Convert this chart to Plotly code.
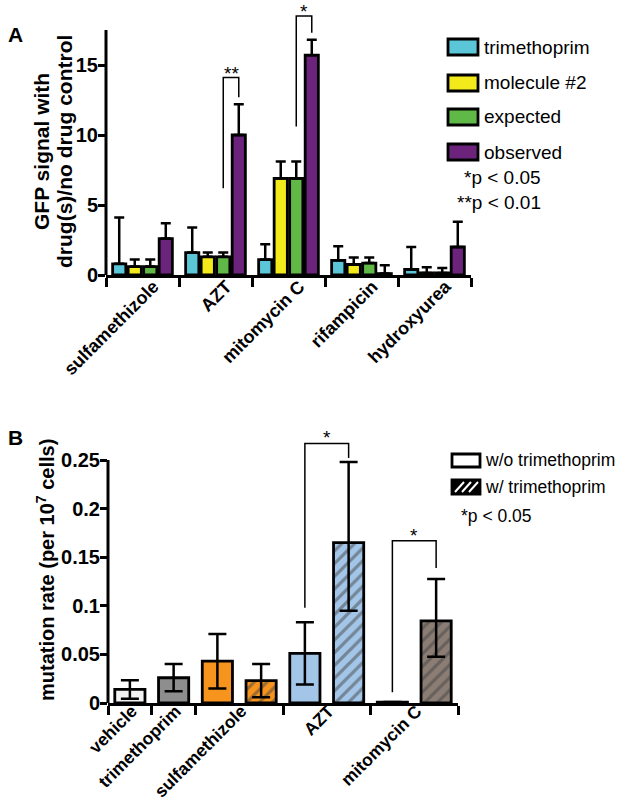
import plotly.graph_objects as go

W, H = 625, 811
FONT = "Liberation Sans, Arial, sans-serif"


def px(x):
    return x / W


def py(y):
    return 1 - y / H


# ---------------- Panel A data ----------------
A_categories = ["sulfamethizole", "AZT", "mitomycin C", "rifampicin", "hydroxyurea"]
A_series = ["trimethoprim", "molecule #2", "expected", "observed"]
A_trimethoprim = [0.8, 1.6, 1.1, 1.05, 0.4]
A_trimethoprim_err = [3.3, 1.8, 1.1, 1.0, 1.6]
A_molecule2 = [0.6, 1.3, 6.9, 0.75, 0.15]
A_molecule2_err = [0.5, 0.3, 1.2, 0.5, 0.4]
A_expected = [0.6, 1.3, 6.9, 0.85, 0.15]
A_expected_err = [0.5, 0.3, 1.2, 0.4, 0.35]
A_observed = [2.6, 10.0, 15.7, 0.1, 2.0]
A_observed_err = [1.1, 2.2, 1.1, 0.6, 1.8]
A_colors = ["#5cc6d9", "#f3ea1b", "#60b947", "#6b237c"]
A_yticks = [0, 5, 10, 15]
A_axis_top = 17.5

# significance brackets (expected vs observed)
A_sig_category = ["AZT", "mitomycin C"]
A_sig_left_bottom = [6.2, 10.6]
A_sig_right_bottom = [12.7, 17.3]
A_sig_top = [14.1, 18.5]
A_sig_label = ["**", "*"]

# ---------------- Panel B data ----------------
B_groups = ["vehicle", "trimethoprim", "sulfamethizole", "AZT", "mitomycin C"]
B_group_slots = [1, 1, 2, 2, 2]
B_without = [0.014, 0.026, 0.043, 0.051, 0.001]
B_without_err = [0.0095, 0.014, 0.028, 0.032, 0.0]
B_without_colors = ["#f2f2f2", "#8e8e8e", "#f7941d", "#a3c6e8", "#1e1e1e"]
B_with_groups = ["sulfamethizole", "AZT", "mitomycin C"]
B_with = [0.023, 0.165, 0.0845]
B_with_err_plus = [0.017, 0.083, 0.043]
B_with_err_minus = [0.017, 0.07, 0.037]
B_with_colors = ["#f7941d", "#a3c6e8", "#8b7d74"]
B_yticks = [0, 0.05, 0.1, 0.15, 0.2, 0.25]
B_yticktext = ["0", "0.05", "0.1", "0.15", "0.2", "0.25"]
B_axis_top = 0.25

B_sig_group = ["AZT", "mitomycin C"]
B_sig_left_bottom = [0.098, 0.011]
B_sig_right_bottom = [0.252, 0.139]
B_sig_top = [0.267, 0.167]
B_sig_label = ["*", "*"]

# ---------------- geometry helpers ----------------
BARGAP, BARGROUPGAP = 0.15, 0.15
nA = len(A_categories)
slot = (1 - BARGAP) / len(A_series)
A_offsets = [(-(len(A_series) - 1) / 2 + i) * slot for i in range(len(A_series))]
A_x = list(range(nA))
A_label_pos = [i + 0.15 for i in A_x]
A_bounds = [i - 0.5 for i in range(nA + 1)]

B_bounds = [0]
for s in B_group_slots:
    B_bounds.append(B_bounds[-1] + s)
B_start = dict(zip(B_groups, B_bounds[:-1]))
B_centers = [B_bounds[i] + B_group_slots[i] / 2 + 0.05 for i in range(len(B_groups))]
B_without_x = [B_start[g] + 0.5 for g in B_groups]
B_with_x = [B_start[g] + 1.5 for g in B_with_groups]
B_bar_w = 0.69

fig = go.Figure()

A_vals = [A_trimethoprim, A_molecule2, A_expected, A_observed]
A_errs = [A_trimethoprim_err, A_molecule2_err, A_expected_err, A_observed_err]
for name, vals, errs, col in zip(A_series, A_vals, A_errs, A_colors):
    fig.add_trace(go.Bar(
        x=A_x, y=vals, name=name, xaxis="x", yaxis="y",
        customdata=A_categories,
        hovertemplate="%{customdata}: %{y}<extra>" + name + "</extra>",
        marker=dict(color=col, line=dict(color="black", width=2.8)),
        error_y=dict(type="data", symmetric=False, array=errs,
                     arrayminus=[0] * len(errs), color="black",
                     thickness=2.5, width=5),
        showlegend=False,
    ))

fig.add_trace(go.Bar(
    x=B_without_x, y=B_without, name="w/o trimethoprim", xaxis="x2", yaxis="y2",
    width=B_bar_w, offset=-B_bar_w / 2,
    marker=dict(color=B_without_colors, line=dict(color="black", width=2.8)),
    error_y=dict(type="data", array=B_without_err, color="black",
                 thickness=2.5, width=9),
    showlegend=False,
))
fig.add_trace(go.Bar(
    x=B_with_x, y=B_with, name="w/ trimethoprim", xaxis="x2", yaxis="y2",
    width=B_bar_w, offset=-B_bar_w / 2,
    marker=dict(color=B_with_colors, line=dict(color="black", width=2.8),
                pattern=dict(shape="/", fgcolor="#1a1a1a", bgcolor=B_with_colors,
                             size=9, solidity=0.36)),
    error_y=dict(type="data", symmetric=False, array=B_with_err_plus,
                 arrayminus=B_with_err_minus, color="black",
                 thickness=2.5, width=9),
    showlegend=False,
))

shapes = []
annotations = []

# manual y-axis lines (axis stops at last tick, brackets extend above)
A_left, A_right = px(106), px(471)
B_left, B_right = px(108), px(458)
shapes.append(dict(type="line", xref="paper", yref="y", x0=A_left, x1=A_left,
                   y0=0, y1=A_axis_top, line=dict(color="black", width=3)))
shapes.append(dict(type="line", xref="paper", yref="y2", x0=B_left, x1=B_left,
                   y0=0, y1=B_axis_top, line=dict(color="black", width=3)))

# brackets A
for cat, lb, rb, top, lab in zip(A_sig_category, A_sig_left_bottom,
                                 A_sig_right_bottom, A_sig_top, A_sig_label):
    ci = A_categories.index(cat)
    xl = ci + A_offsets[2]
    xr = ci + A_offsets[3]
    shapes.append(dict(type="path", xref="x", yref="y",
                       path=f"M {xl},{lb} L {xl},{top} L {xr},{top} L {xr},{rb}",
                       line=dict(color="black", width=1.5)))
    annotations.append(dict(x=(xl + xr) / 2, y=top, xref="x", yref="y",
                            text=lab, showarrow=False, yanchor="bottom", yshift=-8,
                            font=dict(family=FONT, size=19, color="black")))

# brackets B
for g, lb, rb, top, lab in zip(B_sig_group, B_sig_left_bottom,
                               B_sig_right_bottom, B_sig_top, B_sig_label):
    xl = B_start[g] + 0.5
    xr = B_start[g] + 1.5
    shapes.append(dict(type="path", xref="x2", yref="y2",
                       path=f"M {xl},{lb} L {xl},{top} L {xr},{top} L {xr},{rb}",
                       line=dict(color="black", width=1.5)))
    annotations.append(dict(x=(xl + xr) / 2, y=top, xref="x2", yref="y2",
                            text=lab, showarrow=False, yanchor="bottom", yshift=-7,
                            font=dict(family=FONT, size=19, color="black")))

# legend A (manual, large swatches)
A_leg_rows = [47, 83, 117, 152]
for name, col, yc in zip(A_series, A_colors, A_leg_rows):
    shapes.append(dict(type="rect", xref="paper", yref="paper",
                       x0=px(448), x1=px(478), y0=py(yc + 8), y1=py(yc - 8),
                       fillcolor=col, line=dict(color="black", width=2.8)))
    annotations.append(dict(x=px(482), y=py(yc), xref="paper", yref="paper",
                            text=name, showarrow=False, xanchor="left", yanchor="middle",
                            font=dict(family=FONT, size=19, color="black")))
annotations.append(dict(x=px(462), y=py(178), xref="paper", yref="paper",
                        text="*p < 0.05", showarrow=False, xanchor="left", yanchor="middle",
                        font=dict(family=FONT, size=19, color="black")))
annotations.append(dict(x=px(455), y=py(203), xref="paper", yref="paper",
                        text="**p < 0.01", showarrow=False, xanchor="left", yanchor="middle",
                        font=dict(family=FONT, size=19, color="black")))

# legend B
shapes.append(dict(type="rect", xref="paper", yref="paper",
                   x0=px(452), x1=px(480), y0=py(467), y1=py(454),
                   fillcolor="white", line=dict(color="black", width=2.8)))
annotations.append(dict(x=px(483), y=py(460), xref="paper", yref="paper",
                        text="w/o trimethoprim", showarrow=False, xanchor="left",
                        yanchor="middle", font=dict(family=FONT, size=17.5, color="black")))
shapes.append(dict(type="rect", xref="paper", yref="paper",
                   x0=px(452), x1=px(480), y0=py(494), y1=py(480),
                   fillcolor="black", line=dict(color="black", width=2.8)))
for x0 in [455, 462, 469]:
    shapes.append(dict(type="line", xref="paper", yref="paper",
                       x0=px(x0), x1=px(x0 + 9), y0=py(492), y1=py(482),
                       line=dict(color="white", width=2)))
annotations.append(dict(x=px(483), y=py(487), xref="paper", yref="paper",
                        text="w/ trimethoprim", showarrow=False, xanchor="left",
                        yanchor="middle", font=dict(family=FONT, size=17.5, color="black")))
annotations.append(dict(x=px(459), y=py(516), xref="paper", yref="paper",
                        text="*p < 0.05", showarrow=False, xanchor="left", yanchor="middle",
                        font=dict(family=FONT, size=17.5, color="black")))

# panel labels and axis titles
annotations.append(dict(x=px(6), y=py(35), xref="paper", yref="paper", text="<b>A</b>",
                        showarrow=False, xanchor="left", yanchor="middle",
                        font=dict(family=FONT, size=21, color="black")))
annotations.append(dict(x=px(6), y=py(437), xref="paper", yref="paper", text="<b>B</b>",
                        showarrow=False, xanchor="left", yanchor="middle",
                        font=dict(family=FONT, size=21, color="black")))
A_title_lines = ["GFP signal with", "drug(s)/no drug control"]
for xc, line in zip([41, 64], A_title_lines):
    annotations.append(dict(x=px(xc), y=py(152), xref="paper", yref="paper",
                            text="<b>" + line + "</b>",
                            textangle=-90, showarrow=False, xanchor="center",
                            yanchor="middle",
                            font=dict(family=FONT, size=21, color="black")))
annotations.append(dict(x=px(45), y=py(570), xref="paper", yref="paper",
                        text="<b>mutation rate (per 10<sup>7</sup> cells)</b>",
                        textangle=-90, showarrow=False, xanchor="center", yanchor="middle",
                        font=dict(family=FONT, size=20, color="black")))

tickfont_xA = dict(family=FONT, size=18, color="black", weight="bold")
tickfont_xB = dict(family=FONT, size=17.5, color="black", weight="bold")
tickfont_y = dict(family=FONT, size=20, color="black", weight="bold")

common = dict(showgrid=False, zeroline=False, automargin=False)

fig.update_layout(
    width=W, height=H, autosize=False,
    margin=dict(l=0, r=0, t=0, b=0, autoexpand=False),
    paper_bgcolor="white", plot_bgcolor="white",
    barmode="group", bargap=BARGAP, bargroupgap=BARGROUPGAP,
    showlegend=False,
    shapes=shapes, annotations=annotations,
    xaxis=dict(domain=[A_left, A_right], anchor="y",
               range=[A_bounds[0], A_bounds[-1]],
               showline=True, linecolor="black", linewidth=3,
               tickmode="array", tickvals=A_label_pos, ticktext=A_categories,
               ticks="", tickangle=-45, tickfont=tickfont_xA, ticklabelstandoff=-9,
               minor=dict(tickmode="array", tickvals=A_bounds, ticks="outside",
                          ticklen=9, tickwidth=3, tickcolor="black", showgrid=False),
               **common),
    yaxis=dict(domain=[py(275), 1], anchor="x", range=[0, 275 / 14],
               showline=False, ticks="outside", ticklen=7, tickwidth=3,
               tickcolor="black", tickvals=A_yticks, tickfont=tickfont_y,
               ticklabelstandoff=-4, **common),
    xaxis2=dict(domain=[B_left, B_right], anchor="y2", range=[0, B_bounds[-1]],
                showline=True, linecolor="black", linewidth=3,
                tickmode="array", tickvals=B_centers, ticktext=B_groups,
                ticks="", tickangle=-45, tickfont=tickfont_xB, ticklabelstandoff=-12,
                minor=dict(tickmode="array", tickvals=B_bounds, ticks="outside",
                           ticklen=9, tickwidth=3, tickcolor="black", showgrid=False),
                **common),
    yaxis2=dict(domain=[py(703), py(421)], anchor="x2", range=[0, (703 - 421) / 972],
                showline=False, ticks="outside", ticklen=7, tickwidth=3,
                tickcolor="black", tickvals=B_yticks, ticktext=B_yticktext,
                tickfont=tickfont_y, ticklabelstandoff=-4, **common),
)

fig.write_html("out.html", post_script="document.body.style.margin='0';",
               config={"displayModeBar": False})
